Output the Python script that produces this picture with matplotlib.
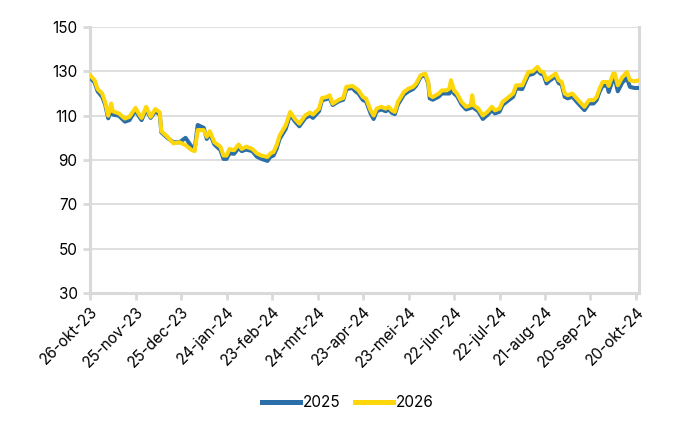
import matplotlib
matplotlib.use("Agg")
import matplotlib.pyplot as plt
import pandas as pd

dates = [
    "2023-10-26", "2023-10-29", "2023-10-31", "2023-11-03", "2023-11-05", "2023-11-07",
    "2023-11-09", "2023-11-10", "2023-11-14", "2023-11-18", "2023-11-21", "2023-11-25",
    "2023-11-27", "2023-11-29", "2023-12-02", "2023-12-05", "2023-12-08", "2023-12-11",
    "2023-12-12", "2023-12-16", "2023-12-20", "2023-12-24", "2023-12-28", "2024-01-01",
    "2024-01-03", "2024-01-05", "2024-01-09", "2024-01-11", "2024-01-13", "2024-01-16",
    "2024-01-20", "2024-01-22", "2024-01-24", "2024-01-26", "2024-01-29", "2024-02-01",
    "2024-02-03", "2024-02-06", "2024-02-10", "2024-02-13", "2024-02-16", "2024-02-20",
    "2024-02-22", "2024-02-24", "2024-02-26", "2024-02-28", "2024-03-03", "2024-03-06",
    "2024-03-09", "2024-03-12", "2024-03-16", "2024-03-19", "2024-03-21", "2024-03-25",
    "2024-03-27", "2024-03-30", "2024-04-01", "2024-04-03", "2024-04-07", "2024-04-10",
    "2024-04-12", "2024-04-16", "2024-04-18", "2024-04-20", "2024-04-23", "2024-04-25",
    "2024-04-28", "2024-04-30", "2024-05-02", "2024-05-05", "2024-05-08", "2024-05-10",
    "2024-05-12", "2024-05-14", "2024-05-16", "2024-05-20", "2024-05-23", "2024-05-26",
    "2024-05-28", "2024-05-31", "2024-06-03", "2024-06-05", "2024-06-06", "2024-06-08",
    "2024-06-12", "2024-06-14", "2024-06-17", "2024-06-19", "2024-06-20", "2024-06-22",
    "2024-06-24", "2024-06-27", "2024-06-30", "2024-07-03", "2024-07-04", "2024-07-05",
    "2024-07-08", "2024-07-11", "2024-07-14", "2024-07-17", "2024-07-19", "2024-07-22",
    "2024-07-24", "2024-07-28", "2024-07-31", "2024-08-02", "2024-08-06", "2024-08-08",
    "2024-08-10", "2024-08-13", "2024-08-16", "2024-08-18", "2024-08-20", "2024-08-22",
    "2024-08-24", "2024-08-28", "2024-08-30", "2024-09-01", "2024-09-03", "2024-09-05",
    "2024-09-08", "2024-09-11", "2024-09-13", "2024-09-16", "2024-09-19", "2024-09-22",
    "2024-09-24", "2024-09-26", "2024-09-28", "2024-10-01", "2024-10-02", "2024-10-05",
    "2024-10-06", "2024-10-08", "2024-10-11", "2024-10-14", "2024-10-16", "2024-10-19",
    "2024-10-22",
]

values_2026 = [
    128.2, 126.0, 122.0, 120.0, 116.0, 110.0, 115.5, 112.0, 111.0, 108.7, 109.5, 113.5,
    111.0, 109.0, 114.0, 109.5, 113.0, 111.5, 103.0, 100.5, 97.5, 98.0, 96.7, 94.5,
    94.0, 103.5, 103.5, 100.5, 103.0, 98.0, 96.0, 92.0, 92.0, 95.0, 94.4, 97.0,
    95.0, 96.0, 95.0, 93.0, 92.0, 91.4, 93.0, 93.6, 96.6, 101.0, 105.6, 111.7,
    108.6, 106.4, 110.2, 111.4, 110.5, 113.2, 118.0, 118.4, 119.2, 115.4, 117.2, 118.0,
    123.0, 123.4, 122.5, 121.4, 118.4, 117.7, 112.4, 110.1, 113.2, 114.0, 113.2, 114.0,
    112.4, 111.7, 116.2, 120.7, 122.2, 123.0, 124.4, 128.2, 129.0, 125.2, 119.2, 118.4,
    120.0, 121.4, 121.4, 122.2, 126.0, 121.4, 120.0, 116.2, 114.0, 114.7, 119.2, 114.7,
    113.2, 110.1, 111.7, 114.0, 112.4, 113.2, 116.2, 118.4, 120.0, 123.7, 123.7, 126.7,
    129.7, 130.0, 132.0, 130.0, 129.7, 126.0, 127.0, 129.0, 126.0, 125.2, 120.0, 119.2,
    120.0, 117.7, 116.2, 114.0, 117.0, 117.0, 118.4, 122.2, 125.2, 125.2, 123.4, 129.0,
    129.0, 123.7, 127.4, 129.7, 126.0, 125.5, 126.0,
]

values_2025 = [
    127.2, 125.0, 121.0, 118.5, 115.0, 108.8, 113.0, 110.5, 110.0, 107.3, 108.0, 112.5,
    110.0, 108.0, 113.0, 109.0, 112.0, 110.5, 102.5, 100.0, 98.0, 98.0, 100.0, 96.0,
    95.0, 105.8, 104.5, 99.5, 102.0, 97.0, 94.5, 90.5, 90.5, 93.0, 92.8, 95.5,
    94.0, 94.7, 94.0, 91.5, 90.5, 89.6, 91.5, 92.0, 95.0, 99.5, 104.0, 110.5,
    107.5, 105.2, 109.0, 110.0, 109.0, 112.0, 117.0, 117.5, 118.0, 114.8, 116.5, 117.2,
    122.0, 122.5, 121.0, 120.0, 117.0, 116.5, 111.0, 108.5, 112.0, 112.8, 112.0, 112.8,
    111.3, 110.7, 115.0, 119.5, 121.0, 122.0, 123.5, 127.5, 128.3, 124.5, 117.8, 117.2,
    118.6, 120.0, 120.0, 120.0, 122.5, 120.0, 118.8, 115.0, 112.8, 113.5, 116.0, 113.5,
    112.0, 108.5, 110.3, 112.5, 111.0, 111.8, 114.8, 117.0, 118.5, 122.3, 122.0, 125.3,
    128.3, 128.8, 130.5, 129.0, 128.5, 124.5, 125.8, 127.7, 124.7, 124.0, 118.5, 117.8,
    118.6, 116.2, 114.7, 112.5, 115.5, 115.5, 117.0, 120.8, 123.5, 123.5, 120.7, 126.8,
    127.0, 121.0, 125.0, 127.0, 123.0, 122.5, 122.5,
]

tick_dates = [
    "2023-10-26", "2023-11-25", "2023-12-25", "2024-01-24", "2024-02-23", "2024-03-24",
    "2024-04-23", "2024-05-23", "2024-06-22", "2024-07-22", "2024-08-21", "2024-09-20",
    "2024-10-20",
]
tick_labels = [
    "26-okt-23", "25-nov-23", "25-dec-23", "24-jan-24", "23-feb-24", "24-mrt-24",
    "23-apr-24", "23-mei-24", "22-jun-24", "22-jul-24", "21-aug-24", "20-sep-24",
    "20-okt-24",
]
y_ticks = [30, 50, 70, 90, 110, 130, 150]
series_names = ["2025", "2026"]

plt.rcParams["font.family"] = ["Inter", "DejaVu Sans"]

x = pd.to_datetime(dates)
fig = plt.figure(figsize=(7.0, 4.3), dpi=100)
ax = fig.add_axes([0.1286, 0.3186, 0.7843, 0.6186])

grid_c = "#d9d9d9"
blue = "#2b6ea8"
yellow = "#ffd60a"

ax.plot(x, values_2025, color=blue, lw=2.9, label=series_names[0], solid_joinstyle="round", zorder=3)
ax.plot(x, values_2026, color=yellow, lw=2.9, label=series_names[1], solid_joinstyle="round", zorder=4)

ax.set_ylim(30, 150)
ax.set_yticks(y_ticks)
ax.set_xlim(pd.Timestamp("2023-10-26"), pd.Timestamp("2024-10-22"))
ax.set_xticks(pd.to_datetime(tick_dates))
ax.set_xticklabels(tick_labels, rotation=45, ha="right", rotation_mode="anchor")

ax.grid(axis="y", color=grid_c, lw=1.2, zorder=0)
ax.set_axisbelow(True)
for s in ["left", "bottom", "right"]:
    ax.spines[s].set_color(grid_c)
    ax.spines[s].set_linewidth(2.2)
ax.spines["top"].set_visible(False)
ax.tick_params(axis="both", colors=grid_c, width=2, length=5, labelcolor="#000000", labelsize=11)
ax.tick_params(axis="x", pad=3)
ax.tick_params(axis="y", pad=4)

leg = fig.legend(loc="center", bbox_to_anchor=(0.497, 0.063), ncol=2, frameon=False,
                 fontsize=11, handlelength=2.5, handletextpad=0.2, columnspacing=0.9)
for line in leg.get_lines():
    line.set_linewidth(3.6)

fig.savefig("out.png", dpi=100)
